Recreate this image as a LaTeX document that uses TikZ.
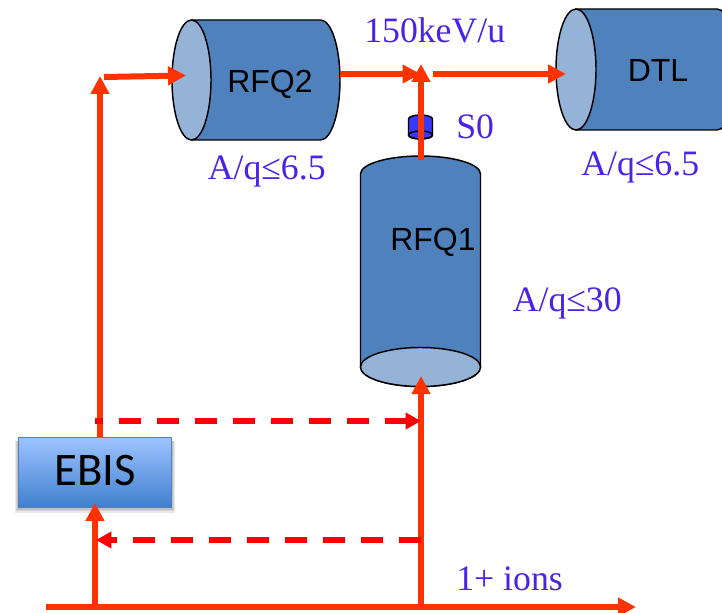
\documentclass[tikz,border=0pt]{standalone}
\usepackage{fontspec}
\setmainfont{Liberation Serif}
\newfontfamily\arialf{Liberation Sans}
\newfontfamily\calf{Carlito}
\usetikzlibrary{arrows.meta}
\definecolor{beam}{HTML}{FF3300}
\definecolor{dashbeam}{HTML}{FF0000}
\definecolor{bodyc}{HTML}{4F81BD}
\definecolor{capc}{HTML}{95B3D7}
\definecolor{labelc}{HTML}{4A22E8}
\definecolor{szero}{HTML}{3838FF}
\definecolor{ebistop}{HTML}{9DC3FF}
\definecolor{ebisbot}{HTML}{3F7FCE}
\tikzset{
  beamline/.style={draw=beam,line width=4.5pt,-{Triangle[length=13.5pt,width=13.5pt]}},
  dashline/.style={draw=dashbeam,line width=4pt,dash pattern=on 16.5pt off 12pt,-{Triangle[length=11.5pt,width=12pt]}},
  cylbody/.style={draw=black,line width=1.1pt,fill=bodyc},
  cylcap/.style={draw=black,line width=1.1pt,fill=capc},
  lab/.style={anchor=base west,inner sep=0pt,text=labelc,font=\fontsize{26.8pt}{30pt}\selectfont},
  devtext/.style={inner sep=0pt,text=black,font=\arialf\fontsize{24pt}{26pt}\selectfont},
  softshade/.style={fill=black,fill opacity=.09,draw=none},
}
\begin{document}
\begin{tikzpicture}[x=0.75pt,y=-0.75pt]
\useasboundingbox (0,0) rectangle (722,613);
\clip (0,0) rectangle (722,613);
% devices
\path[cylbody] (191.5,20) -- (320.5,20) arc[start angle=-90,end angle=90,x radius=19.5,y radius=60] -- (191.5,140) -- cycle;
\path[cylcap] (191.5,80) ellipse[x radius=19.5,y radius=60];
\path[cylbody] (576,9) -- (717,9) arc[start angle=-90,end angle=90,x radius=20,y radius=60.5] -- (576,130) -- cycle;
\path[cylcap] (576,69.5) ellipse[x radius=20,y radius=60.5];
\path[cylbody] (360.5,174) arc[start angle=180,end angle=360,x radius=60,y radius=18] -- (480.5,367) arc[start angle=0,end angle=180,x radius=60,y radius=19.5] -- cycle;
\path[cylcap] (420.5,367) ellipse[x radius=60,y radius=19.5];
\path[draw=black,line width=1.1pt,fill=szero] (408.5,119) arc[start angle=180,end angle=360,x radius=12,y radius=4] -- (432.5,135) arc[start angle=0,end angle=180,x radius=12,y radius=4] -- cycle;
\draw[black,line width=1.1pt] (420.5,135) ellipse[x radius=12,y radius=4];
\node[devtext] (rfq2) at (270,84) {RFQ2};
\node[devtext] (rfq1) at (433,242) {RFQ1};
\node[devtext] (dtl) at (658,70) {DTL};
% connection points
\coordinate (a) at (104,77);
\coordinate (b) at (186,75.5);
\coordinate (c) at (340,74);
\coordinate (d) at (420.5,74);
\coordinate (e) at (433,74);
\coordinate (f) at (566,74);
\coordinate (g) at (421,160);
\coordinate (h) at (421,64);
\coordinate (i) at (100,437);
\coordinate (j) at (100,76);
\coordinate (k) at (46,607);
\coordinate (l) at (636,607);
\coordinate (m) at (95,607);
\coordinate (n) at (95,503);
\coordinate (o) at (421,607);
\coordinate (p) at (421,376);
\coordinate (q) at (95,421);
\coordinate (r) at (421,421);
\coordinate (s) at (421,540);
\coordinate (t) at (96,540);
% beams
\draw[beamline] (a) -- (b);
\draw[beamline] (c) -- (d);
\draw[beamline] (e) -- (f);
\draw[beamline] (g) -- (h);
\draw[beamline] (i) -- (j);
% EBIS
\fill[softshade] (15,441) rectangle (175,513);
\fill[softshade] (16,441) rectangle (174,511);
\fill[softshade] (17,441) rectangle (173,510);
\node[draw=bodyc,line width=.8pt,top color=ebistop,bottom color=ebisbot,minimum width=115pt,minimum height=52.5pt,inner sep=0pt,anchor=north west,text=black,font=\calf\fontsize{35pt}{38pt}\selectfont] (ebis) at (18,437) {\raisebox{3pt}{EBIS}};
\draw[beamline] (k) -- (l);
\draw[beamline] (m) -- (n);
\draw[beamline] (o) -- (p);
\draw[dashline,dash phase=10.5pt] (q) -- (r);
\draw[dashline] (s) -- (t);
% labels
\node[lab] (l150) at (364,43) {150keV/u};
\node[lab] (ls0) at (456,139) {S0};
\node[lab] (lq2) at (207.5,180) {A/q≤6.5};
\node[lab] (ldtl) at (581,176) {A/q≤6.5};
\node[lab] (lq1) at (512.5,312) {A/q≤30};
\node[lab] (lions) at (456,590) {1+ ions};
\end{tikzpicture}
\end{document}
